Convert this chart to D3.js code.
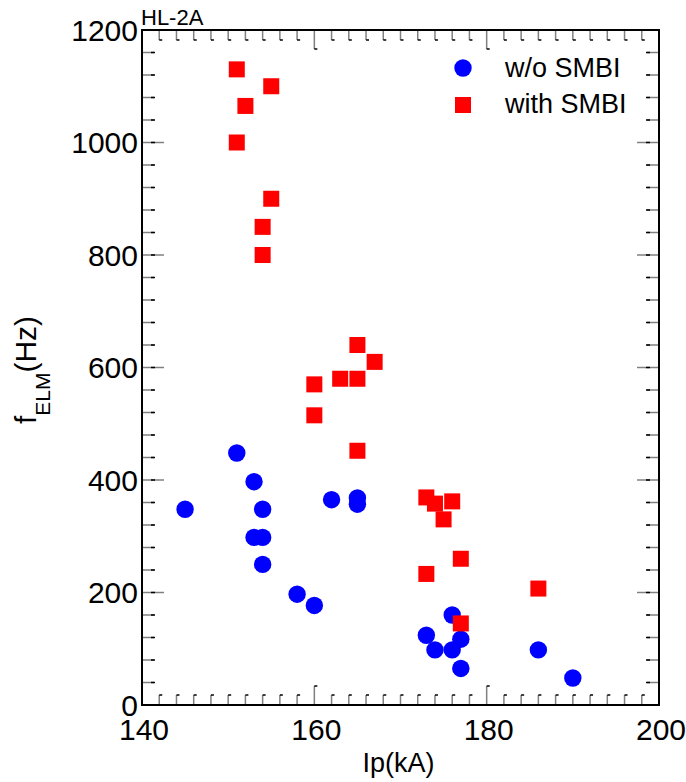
<!DOCTYPE html>
<html>
<head>
<meta charset="utf-8">
<script src="https://cdn.jsdelivr.net/npm/d3@7"></script>
<style>
  body { margin: 0; background: #fff; }
  svg text { font-family: "Liberation Sans", Arial, sans-serif; fill: #000; }
</style>
</head>
<body>
<div id="chart"></div>
<script>
// values
var ipNoSmbi = [151, 153, 145, 154, 162, 165, 165, 153, 154, 154, 158, 160, 176, 173, 177, 174, 176, 177, 186, 190];
var fNoSmbi  = [448, 397, 348, 348, 365, 368, 357, 298, 298, 250, 197, 177, 160, 124, 117, 98, 98, 65, 98, 48];

var ipSmbi = [151, 155, 152, 151, 155, 154, 154, 165, 167, 163, 165, 160, 160, 165, 173, 174, 176, 175, 177, 173, 186, 177];
var fSmbi  = [1130, 1100, 1065, 1000, 900, 850, 800, 640, 610, 580, 580, 570, 515, 452, 369, 358, 362, 330, 260, 233, 207, 145];

var xTickLabels = [140, 160, 180, 200];
var yTickLabels = [0, 200, 400, 600, 800, 1000, 1200];
var seriesNames = ["w/o SMBI", "with SMBI"];

var width = 686, height = 782;
// plot box (pixels)
var pL = 142, pR = 659, pT = 30, pB = 705;

var svg = d3.select("#chart").append("svg")
	.attr("width", width)
	.attr("height", height);

var x = d3.scaleLinear().domain([140, 200]).range([pL, pR]);
var y = d3.scaleLinear().domain([0, 1200]).range([pB, pT]);

var grey = "#808080";
var ticks = svg.append("g").attr("stroke-width", 1.5);

// top + bottom ticks, every 2 kA, long ones at 160/180
d3.range(142, 200, 2).forEach(function(v){
	var major = (v % 20 === 0);
	var len = major ? 19 : 10;
	var px = x(v);
	// top, foot turns right at the tip
	ticks.append("line").attr("x1", px).attr("x2", px).attr("y1", pT).attr("y2", pT + len).attr("stroke", grey);
	ticks.append("line").attr("x1", px).attr("x2", px + 3).attr("y1", pT + len).attr("y2", pT + len).attr("stroke", "#000");
	// bottom
	ticks.append("line").attr("x1", px).attr("x2", px).attr("y1", pB).attr("y2", pB - len).attr("stroke", grey);
	ticks.append("line").attr("x1", px).attr("x2", px + 3).attr("y1", pB - len).attr("y2", pB - len).attr("stroke", "#000");
});

// left + right ticks, every 40 Hz
d3.range(40, 1200, 40).forEach(function(v){
	var major = (v % 200 === 0);
	var len = major ? 22 : 12;
	var py = y(v);
	ticks.append("line").attr("x1", pL).attr("x2", pL + len).attr("y1", py).attr("y2", py).attr("stroke", grey);
	ticks.append("line").attr("x1", pL + 9).attr("x2", pL + 13).attr("y1", py).attr("y2", py).attr("stroke", "#000");
	ticks.append("line").attr("x1", pR).attr("x2", pR - len).attr("y1", py).attr("y2", py).attr("stroke", grey);
	ticks.append("line").attr("x1", pR - 9).attr("x2", pR - 13).attr("y1", py).attr("y2", py).attr("stroke", "#000");
});

// frame
svg.append("rect")
	.attr("x", pL).attr("y", pT)
	.attr("width", pR - pL).attr("height", pB - pT)
	.attr("fill", "none").attr("stroke", "#000").attr("stroke-width", 2);

// tick labels
svg.append("g").selectAll("text")
	.data(xTickLabels)
	.enter().append("text")
	.attr("x", function(d){ return x(d) + 2; })
	.attr("y", 740)
	.attr("text-anchor", "middle")
	.attr("font-size", 30)
	.text(String);

svg.append("g").selectAll("text")
	.data(yTickLabels)
	.enter().append("text")
	.attr("x", pL - 4)
	.attr("y", function(d){ return y(d); })
	.attr("dy", "0.36em")
	.attr("text-anchor", "end")
	.attr("font-size", 30)
	.text(String);

// axis titles
svg.append("text")
	.attr("x", (pL + pR) / 2 - 2)
	.attr("y", 772)
	.attr("text-anchor", "middle")
	.attr("font-size", 27)
	.text("Ip(kA)");

var yt = svg.append("text")
	.attr("transform", "translate(36,370) rotate(-90)")
	.attr("text-anchor", "middle")
	.attr("font-size", 30);
yt.append("tspan").text("f");
yt.append("tspan").attr("font-size", 21).attr("dy", 14).text("ELM");
yt.append("tspan").attr("dy", -14).text("(Hz)");

svg.append("text")
	.attr("x", pL - 1)
	.attr("y", 25)
	.attr("font-size", 22)
	.text("HL-2A");

// points
var blue = "#0000ff", red = "#ff0000";
var plot = svg.append("g");

plot.selectAll("circle.nosmbi")
	.data(ipNoSmbi)
	.enter().append("circle")
	.attr("class", "nosmbi")
	.attr("cx", function(d){ return x(d); })
	.attr("cy", function(d, i){ return y(fNoSmbi[i]); })
	.attr("r", 8.7)
	.attr("fill", blue);

var sq = 16;
plot.selectAll("rect.smbi")
	.data(ipSmbi)
	.enter().append("rect")
	.attr("class", "smbi")
	.attr("x", function(d){ return x(d) - sq / 2; })
	.attr("y", function(d, i){ return y(fSmbi[i]) - sq / 2; })
	.attr("width", sq)
	.attr("height", sq)
	.attr("fill", red);

// legend
var lg = svg.append("g");
lg.append("circle").attr("cx", 463).attr("cy", 68).attr("r", 8.7).attr("fill", blue);
lg.append("rect").attr("x", 463 - sq / 2).attr("y", 105 - sq / 2).attr("width", sq).attr("height", sq).attr("fill", red);
lg.selectAll("text")
	.data(seriesNames)
	.enter().append("text")
	.attr("x", 505)
	.attr("y", function(d, i){ return 77 + i * 36; })
	.attr("font-size", 27)
	.text(String);
</script>
</body>
</html>
